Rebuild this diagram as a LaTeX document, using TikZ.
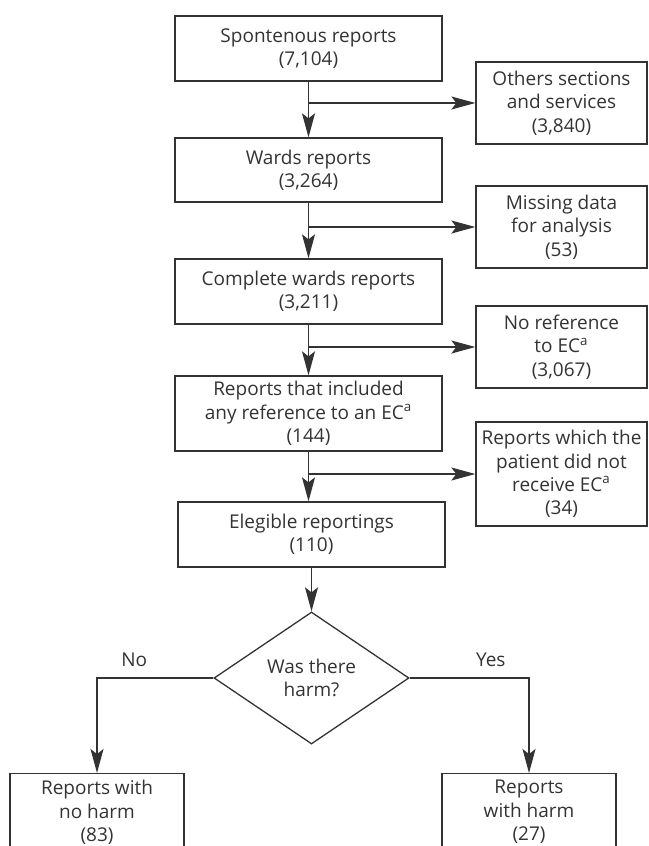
\documentclass[tikz,border=0pt]{standalone}
\usepackage{fontspec}
\setmainfont{Open Sans}
\usetikzlibrary{shapes.geometric, arrows.meta}
\begin{document}
\begin{tikzpicture}[x=0.5pt, y=-0.5pt, line width=0.65pt, color=black!80,
		every node/.style={font=\fontsize{9.5}{11.65}\selectfont, align=center},
		mainbox/.style={rectangle, draw, minimum width=133.5pt, inner ysep=2pt},
		sidebox/.style={rectangle, draw, minimum width=85.5pt, minimum height=41pt, inner sep=1pt},
		harmbox/.style={rectangle, draw, minimum width=87pt, anchor=north},
		decision/.style={diamond, draw, aspect=1.5, minimum width=97.5pt, minimum height=66pt, inner sep=0pt},
		flow/.style={-{Stealth[length=12pt, width=6.5pt, inset=2.5pt]}}]
		\clip (0,0) rectangle (648,846);
		% main column
		\node[mainbox, minimum height=32.5pt] (1) at (308.5, 48.5) {Spontenous reports\\(7,104)};
		\node[mainbox, minimum height=32pt] (2) at (308.5, 170) {Wards reports\\(3,264)};
		\node[mainbox, minimum height=32.5pt] (3) at (308.5, 291.5) {Complete wards reports\\(3,211)};
		\node[mainbox, minimum height=37.5pt] (4) at (308.5, 413.5) {Reports that included\\any reference to an EC\textsuperscript{a}\\(144)};
		\node[mainbox, minimum height=32.5pt] (5) at (311.5, 534.5) {Elegible reportings\\(110)};
		% excluded
		\node[sidebox] (6) at (561.5, 103) {Others sections\\and services\\(3,840)};
		\node[sidebox] (7) at (561.5, 227) {Missing data\\for analysis\\(53)};
		\node[sidebox] (8) at (561.5, 347) {No reference\\to EC\textsuperscript{a}\\(3,067)};
		\node[sidebox, minimum height=52pt] (9) at (561.5, 474) {Reports which the\\patient did not\\receive EC\textsuperscript{a}\\(34)};
		% harm
		\node[decision] (10) at (311.5, 678) {Was there\\harm?};
		\node[harmbox] (11) at (97, 773) {Reports with\\no harm\\(83)\\~};
		\node[harmbox] (12) at (529, 773) {Reports\\with harm\\(27)\\~};
		\draw[flow] (1) -- (2);
		\draw[flow] (1.south |- 6) -- (6);
		\draw[flow] (2) -- (3);
		\draw[flow] (2.south |- 7) -- (7);
		\draw[flow] (3) -- (4);
		\draw[flow] (3.south |- 8) -- (8);
		\draw[flow] (4.south) -- (4.south |- 5.north);
		\draw[flow] (4.south |- 9) -- (9);
		\draw[flow] (5) -- (10);
		\draw[flow] (10.west) -| node[pos=0.34, above=2pt] {No} (11.north);
		\draw[flow] (10.east) -| node[pos=0.34, above=2pt] {Yes} (12.north);
	\end{tikzpicture}
\end{document}
